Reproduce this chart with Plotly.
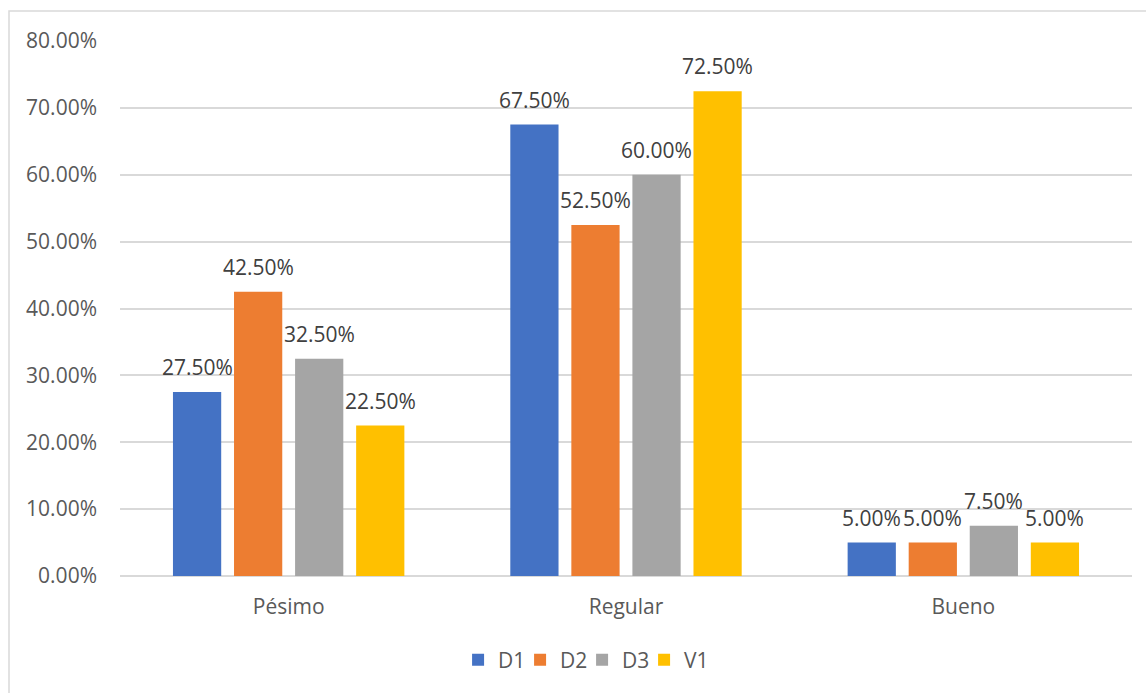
import plotly.graph_objects as go

categories = ["Pésimo", "Regular", "Bueno"]
series_names = ["D1", "D2", "D3", "V1"]
d1 = [0.275, 0.675, 0.05]
d2 = [0.425, 0.525, 0.05]
d3 = [0.325, 0.60, 0.075]
v1 = [0.225, 0.725, 0.05]
y_ticks = [0, 0.1, 0.2, 0.3, 0.4, 0.5, 0.6, 0.7, 0.8]

colors = ["#4472C4", "#ED7D31", "#A5A5A5", "#FFC000"]
FONT = "Open Sans"
FS = 21

W, H = 1146, 693
ML, MR, MT, MB = 120, 14, 41, 117
BARGAP, GROUPGAP = 0.276, 0.21

fig = go.Figure()
all_series = [d1, d2, d3, v1]
for name, vals, col in zip(series_names, all_series, colors):
    fig.add_trace(go.Bar(
        name=name, x=categories, y=vals,
        marker=dict(color=col, line=dict(width=0)),
    ))

# data labels above bars (Excel "outside end" style), offset to each bar in its group
plot_w = W - ML - MR
cat_w = plot_w / len(categories)
slot = cat_w * (1 - BARGAP) / len(all_series)
annotations = []
for i, vals in enumerate(all_series):
    off = (i - (len(all_series) - 1) / 2) * slot
    for c, v in zip(categories, vals):
        annotations.append(dict(
            x=c, y=v, xref="x", yref="y", text=f"{v:.2%}", showarrow=False,
            xshift=off, yshift=25, yanchor="middle", xanchor="center",
            font=dict(family=FONT, size=FS, color="#404040"),
        ))

fig.update_layout(
    width=W, height=H,
    margin=dict(l=ML, r=MR, t=MT, b=MB),
    paper_bgcolor="white", plot_bgcolor="white",
    barmode="group", bargap=BARGAP, bargroupgap=GROUPGAP,
    font=dict(family=FONT, size=FS, color="#595959"),
    showlegend=True,
    legend=dict(orientation="h", x=0.4566, xanchor="center", y=-0.157, yanchor="middle",
                font=dict(family=FONT, size=FS, color="#595959"),
                itemwidth=30, traceorder="normal", entrywidth=17),
    xaxis=dict(showgrid=False, showline=False, ticks="", zeroline=False,
               tickfont=dict(family=FONT, size=FS, color="#595959"),
               ticklabelstandoff=16),
    yaxis=dict(range=[0, 0.8], tickvals=y_ticks, tickformat=".2%",
               showgrid=True, gridcolor="#D9D9D9", gridwidth=1.5,
               zeroline=True, zerolinecolor="#D9D9D9", zerolinewidth=1.5,
               showline=False, ticks="",
               tickfont=dict(family=FONT, size=FS, color="#595959"),
               ticklabelstandoff=22),
    annotations=annotations,
    shapes=[dict(type="rect", xref="paper", yref="paper",
                 x0=(9 - ML) / plot_w, x1=1.2, y0=-0.4, y1=(H - MB - 11) / (H - MT - MB),
                 line=dict(color="#D9D9D9", width=1.5), fillcolor="rgba(0,0,0,0)",
                 layer="below")],
)

fig.write_html("out.html")
